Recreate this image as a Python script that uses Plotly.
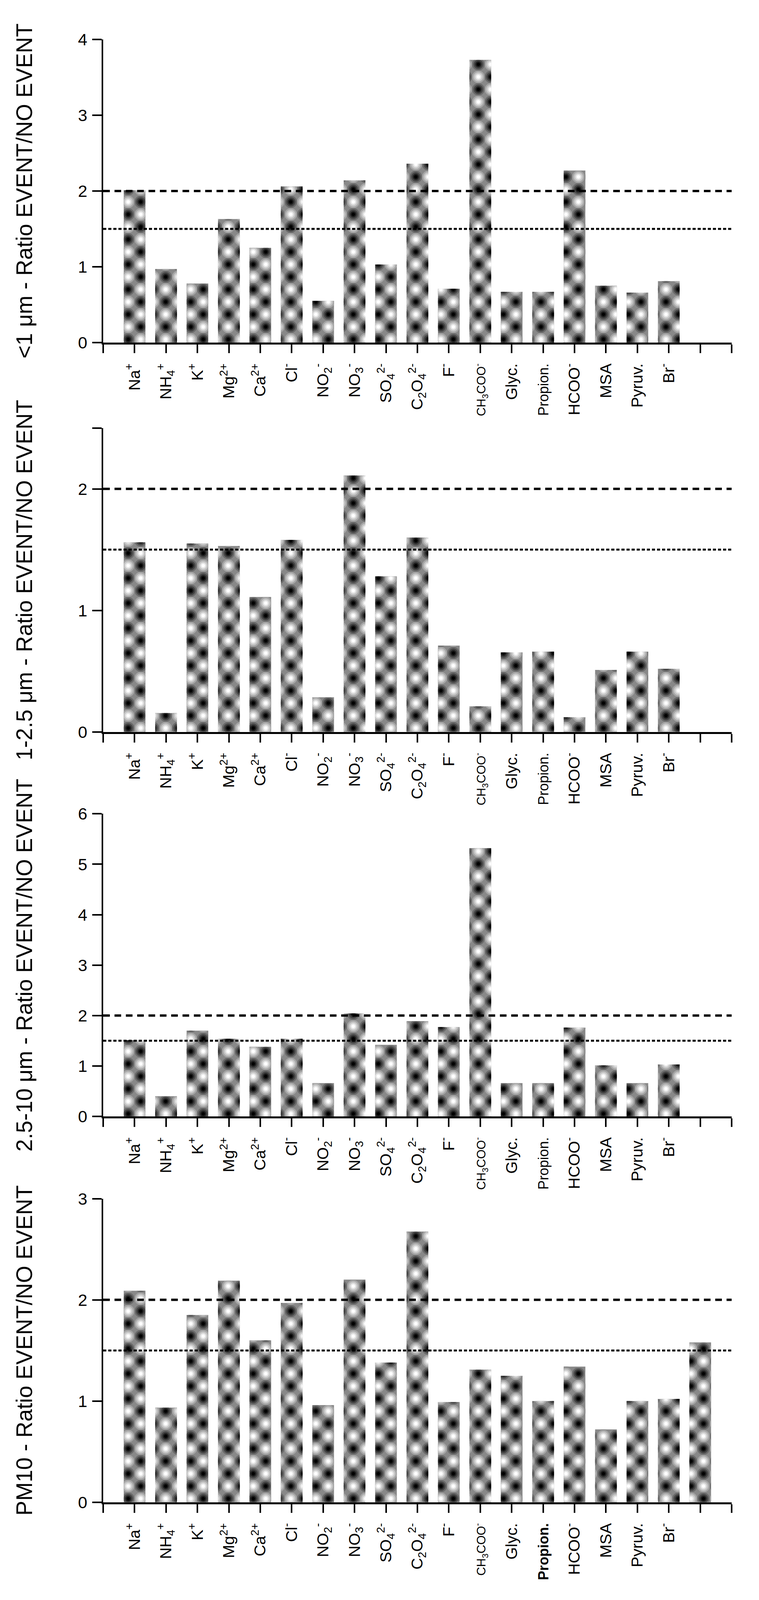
import plotly.graph_objects as go

# ion labels (x axis), same order in every panel
labels = [
    "Na<sup>+</sup>", "NH<sub>4</sub><sup>+</sup>", "K<sup>+</sup>", "Mg<sup>2+</sup>",
    "Ca<sup>2+</sup>", "Cl<sup>-</sup>", "NO<sub>2</sub><sup>-</sup>", "NO<sub>3</sub><sup>-</sup>",
    "SO<sub>4</sub><sup>2-</sup>", "C<sub>2</sub>O<sub>4</sub><sup>2-</sup>", "F<sup>-</sup>",
    "<span style='font-size:31px'>CH<sub>3</sub>COO<sup>-</sup></span>", "Glyc.",
    "<span style='font-size:36px'>Propion.</span>", "HCOO<sup>-</sup>", "MSA", "Pyruv.", "Br<sup>-</sup>",
]
labels_pm10 = labels[:13] + ["<span style='font-size:36px'><b>Propion.</b></span>"] + labels[14:] + [""]

# ratio EVENT / NO EVENT per size fraction
ratio_pm1 = [2.01, 0.97, 0.78, 1.63, 1.25, 2.06, 0.55, 2.14, 1.03, 2.36, 0.71, 3.73, 0.67, 0.67, 2.27, 0.75, 0.66, 0.81]
ratio_pm1_25 = [1.56, 0.155, 1.55, 1.53, 1.11, 1.58, 0.285, 2.11, 1.28, 1.60, 0.71, 0.21, 0.655, 0.66, 0.12, 0.51, 0.66, 0.52]
ratio_pm25_10 = [1.51, 0.40, 1.70, 1.54, 1.38, 1.54, 0.66, 2.04, 1.42, 1.89, 1.77, 5.32, 0.66, 0.66, 1.76, 1.01, 0.66, 1.03]
ratio_pm10 = [2.09, 0.935, 1.85, 2.19, 1.60, 1.97, 0.96, 2.20, 1.38, 2.675, 0.99, 1.31, 1.25, 1.00, 1.34, 0.72, 1.00, 1.02, 1.58]

titles = [
    "&lt;1 μm - Ratio EVENT/NO EVENT",
    "1-2.5 μm - Ratio EVENT/NO EVENT",
    "2.5-10 μm - Ratio EVENT/NO EVENT",
    "PM10 - Ratio EVENT/NO EVENT",
]
y_tops = [4, 2.5, 6, 3]
y_ticks = [[0, 1, 2, 3, 4], [0, 1, 2, 2.5], [0, 1, 2, 3, 4, 5, 6], [0, 1, 2, 3]]
thresholds = [2.0, 1.5]

W, H = 1942, 4576
# only the top ~4100 px of the page end up in the photo, so squeeze the
# stack of panels vertically to keep the last row of labels in view
SQ = 0.885
areas = [(78.5, 965), (1215, 2103), (2342.5, 3227), (3467.5, 4355)]

FONT = "Liberation Sans, Arial, sans-serif"

# egg-crate texture: black blobs on one sub-lattice, white blobs on the other
S = 64
dark_sites = [(0, 0), (S, 0), (0, S), (S, S), (S / 2, S / 2)]
light_sites = [(S / 2, 0), (0, S / 2), (S, S / 2), (S / 2, S)]


def circles(sites, r):
    return " ".join(
        f"M{x - r:.1f},{y:.1f}a{r},{r} 0 1,0 {2 * r},0a{r},{r} 0 1,0 {-2 * r},0Z"
        for x, y in sites
    )


layers = [
    (dark_sites, 16, "#6a6a6a"), (dark_sites, 12, "#454545"), (dark_sites, 8, "#202020"), (dark_sites, 4.5, "#000000"),
    (light_sites, 16, "#a6a6a6"), (light_sites, 12, "#c6c6c6"), (light_sites, 8, "#e5e5e5"), (light_sites, 4.5, "#ffffff"),
]

fig = go.Figure()
layout = {}
panels = [
    (ratio_pm1, labels), (ratio_pm1_25, labels), (ratio_pm25_10, labels), (ratio_pm10, labels_pm10),
]

for k, (vals, labs) in enumerate(panels):
    n = k + 1
    xa = "x" if n == 1 else f"x{n}"
    ya = "y" if n == 1 else f"y{n}"
    xs = list(range(1, len(vals) + 1))

    for i, (sites, r, col) in enumerate(layers):
        fig.add_trace(go.Bar(
            x=xs, y=vals, width=0.69, xaxis=xa, yaxis=ya,
            marker=dict(
                color="#888888" if i == 0 else "rgba(0,0,0,0)",
                line_width=0,
                pattern=dict(
                    path=circles(sites, r), size=S, fgcolor=col,
                    bgcolor="#888888" if i == 0 else "rgba(0,0,0,0)",
                    fillmode="replace",
                ),
            ),
            showlegend=False,
            hoverinfo="skip" if i else "x+y",
        ))

    top_px, bot_px = areas[k]
    dom = [1 - bot_px * SQ / H, 1 - top_px * SQ / H]
    top = y_tops[k]

    ticktext = [""] + labs + [""] * (20 - len(labs))
    layout["xaxis" if n == 1 else f"xaxis{n}"] = dict(
        domain=[0, 1], anchor=ya, range=[0, 20],
        tickmode="array", tickvals=list(range(21)), ticktext=ticktext,
        tickangle=-90, ticks="outside", ticklen=22, tickwidth=4, tickcolor="black",
        showline=True, linewidth=5, linecolor="black",
        showgrid=False, zeroline=False, ticklabelstandoff=10,
        tickfont=dict(family=FONT, size=41, color="black"),
    )
    layout["yaxis" if n == 1 else f"yaxis{n}"] = dict(
        domain=dom, anchor=xa, range=[0, top],
        tickmode="array", tickvals=y_ticks[k],
        ticktext=[("" if v == 2.5 else str(v)) for v in y_ticks[k]],
        ticks="outside", ticklen=24, tickwidth=4, tickcolor="black",
        showline=True, linewidth=4, linecolor="black",
        showgrid=False, zeroline=False, ticklabelstandoff=4,
        tickfont=dict(family=FONT, size=43, color="black"),
        title=dict(text=titles[k], font=dict(family=FONT, size=57, color="black"), standoff=100),
    )
    right_ticks = [j * 0.5 for j in range(int(top * 2) + 1)]
    layout[f"yaxis{n + 4}"] = dict(
        overlaying=ya, anchor=xa, side="right", range=[0, top],
        tickmode="array", tickvals=right_ticks, showticklabels=False,
        ticks="outside", ticklen=24, tickwidth=4, tickcolor="black",
        showline=True, linewidth=4, linecolor="black",
        showgrid=False, zeroline=False,
    )

    # reference lines: dashed at 2, dotted at 1.5
    for yv, dash, lw in [(thresholds[0], "17px,12px", 6), (thresholds[1], "8px,5px", 5)]:
        fig.add_shape(
            type="line", xref=xa, yref=ya, x0=0, x1=20, y0=yv, y1=yv,
            line=dict(color="black", width=lw, dash=dash), layer="above",
        )

fig.update_layout(
    width=W, height=H,
    margin=dict(l=256, r=78, t=0, b=0),
    paper_bgcolor="white", plot_bgcolor="white",
    barmode="overlay",
    font=dict(family=FONT, color="black"),
    **layout,
)

fig.write_html("out.html")
